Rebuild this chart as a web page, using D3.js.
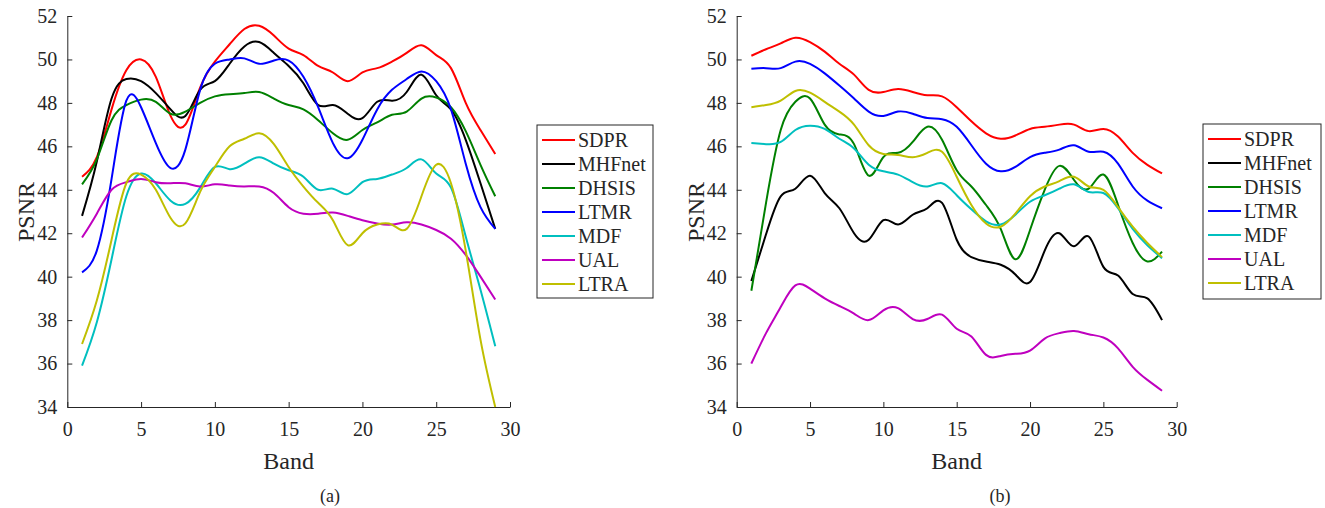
<!DOCTYPE html>
<html lang="en">
<head>
    <meta charset="UTF-8" />
    <title>PSNR per band</title>
    <script src="https://d3js.org/d3.v7.min.js"></script>
    <style>
        body { margin: 0; background: #fff; }
        text { font-family: "Liberation Serif", "Times New Roman", serif; fill: #262626; }
    </style>
</head>
<body>
<div id="my_chart"></div>
<script>
    // band numbers and tick labels
    const bands = [1, 2, 3, 4, 5, 6, 7, 8, 9, 10, 11, 12, 13, 14, 15, 16, 17, 18, 19, 20, 21, 22, 23, 24, 25, 26, 27, 28, 29];
    const xTicks = [0, 5, 10, 15, 20, 25, 30];
    const yTicks = [34, 36, 38, 40, 42, 44, 46, 48, 50, 52];
    const methods = ["SDPR", "MHFnet", "DHSIS", "LTMR", "MDF", "UAL", "LTRA"];

    // panel (a)
    const sdprA = [44.6, 45.5, 47.7, 49.5, 50.0, 49.2, 47.4, 47.0, 48.7, 49.9, 50.7, 51.4, 51.55, 51.1, 50.5, 50.2, 49.7, 49.4, 49.0, 49.4, 49.6, 49.9, 50.3, 50.65, 50.2, 49.6, 48.0, 46.75, 45.65];
    const mhfA = [42.8, 45.3, 48.2, 49.1, 49.0, 48.45, 47.7, 47.4, 48.6, 49.0, 49.8, 50.6, 50.8, 50.3, 49.7, 48.9, 47.9, 47.9, 47.5, 47.3, 48.05, 48.1, 48.5, 49.3, 48.35, 47.7, 46.3, 44.3, 42.2];
    const dhsisA = [44.25, 45.4, 47.2, 47.9, 48.15, 48.05, 47.5, 47.6, 48.0, 48.3, 48.4, 48.45, 48.5, 48.2, 47.9, 47.7, 47.2, 46.6, 46.3, 46.75, 47.1, 47.45, 47.6, 48.2, 48.25, 47.8, 46.7, 45.15, 43.7];
    const ltmrA = [40.2, 41.2, 44.5, 48.1, 47.8, 46.15, 45.0, 45.85, 48.6, 49.8, 50.0, 50.05, 49.8, 49.95, 49.95, 49.2, 47.8, 46.15, 45.45, 46.3, 47.7, 48.6, 49.1, 49.45, 49.0, 47.7, 45.2, 43.2, 42.2];
    const mdfA = [35.9, 37.9, 40.8, 43.7, 44.75, 44.3, 43.5, 43.35, 44.1, 45.05, 44.95, 45.2, 45.5, 45.2, 44.9, 44.6, 44.0, 44.05, 43.8, 44.35, 44.5, 44.7, 45.0, 45.4, 44.75, 44.1, 41.85, 39.4, 36.8];
    const ualA = [41.8, 42.9, 44.0, 44.35, 44.5, 44.35, 44.3, 44.3, 44.15, 44.25, 44.2, 44.15, 44.15, 43.85, 43.2, 42.9, 42.9, 42.95, 42.8, 42.6, 42.45, 42.4, 42.5, 42.4, 42.15, 41.75, 41.0, 40.0, 38.95];
    const ltraA = [36.9, 38.9, 41.7, 44.3, 44.7, 44.0, 42.7, 42.45, 43.9, 45.05, 46.0, 46.35, 46.6, 46.1, 45.05, 44.15, 43.4, 42.6, 41.45, 42.0, 42.4, 42.4, 42.2, 43.7, 45.15, 44.3, 41.2, 37.1, 34.0];

    // panel (b)
    const sdprB = [50.17, 50.47, 50.74, 51.0, 50.8, 50.36, 49.8, 49.3, 48.6, 48.5, 48.64, 48.5, 48.35, 48.3, 47.8, 47.15, 46.6, 46.35, 46.5, 46.8, 46.9, 47.0, 47.0, 46.7, 46.8, 46.45, 45.7, 45.15, 44.75];
    const mhfB = [39.8, 41.95, 43.7, 44.05, 44.65, 43.85, 43.15, 42.0, 41.7, 42.6, 42.4, 42.85, 43.15, 43.4, 41.7, 40.9, 40.7, 40.55, 40.1, 39.75, 41.2, 42.0, 41.4, 41.85, 40.45, 40.05, 39.2, 39.0, 38.0];
    const dhsisB = [39.35, 43.4, 46.75, 48.05, 48.2, 47.0, 46.55, 46.1, 44.65, 45.5, 45.7, 46.2, 46.9, 46.3, 44.9, 44.15, 43.3, 42.2, 40.8, 42.15, 44.0, 45.1, 44.45, 44.05, 44.7, 43.3, 41.55, 40.7, 41.15];
    const ltmrB = [49.57, 49.6, 49.6, 49.9, 49.8, 49.36, 48.8, 48.2, 47.6, 47.4, 47.6, 47.5, 47.3, 47.25, 46.9, 46.05, 45.2, 44.85, 45.05, 45.5, 45.7, 45.85, 46.05, 45.75, 45.75, 45.2, 44.15, 43.5, 43.15];
    const mdfB = [46.15, 46.1, 46.2, 46.75, 46.95, 46.8, 46.35, 45.9, 45.15, 44.85, 44.7, 44.35, 44.15, 44.3, 43.75, 43.1, 42.55, 42.4, 42.85, 43.45, 43.75, 44.05, 44.25, 43.9, 43.85, 43.15, 42.2, 41.45, 40.85];
    const ualB = [36.0, 37.4, 38.6, 39.6, 39.45, 39.0, 38.65, 38.3, 38.0, 38.45, 38.55, 38.05, 38.05, 38.25, 37.6, 37.25, 36.4, 36.35, 36.45, 36.6, 37.15, 37.4, 37.5, 37.35, 37.2, 36.7, 35.85, 35.25, 34.75];
    const ltraB = [47.8, 47.9, 48.1, 48.55, 48.47, 48.05, 47.6, 47.0, 46.05, 45.65, 45.6, 45.5, 45.7, 45.75, 44.6, 43.3, 42.45, 42.3, 42.9, 43.7, 44.15, 44.4, 44.6, 44.15, 44.0, 43.2, 42.3, 41.55, 40.9];

    const colors = ["#ff0000", "#000000", "#008000", "#0000ff", "#00bfbf", "#bf00bf", "#bfbf00"];
    const axisColor = "#262626";

    const width = 1325, height = 508;
    const svg = d3.select("#my_chart")
        .append("svg")
        .attr("width", width)
        .attr("height", height);

    svg.append("rect").attr("width", width).attr("height", height).attr("fill", "#fff");

    function drawPanel(opt) {
        const x = d3.scaleLinear().domain([0, 30]).range([opt.left, opt.right]);
        const y = d3.scaleLinear().domain([34, 52]).range([407, 16]);

        const g = svg.append("g");

        // X axis
        const gx = g.append("g")
            .attr("transform", "translate(0,407)")
            .call(d3.axisBottom(x).tickValues(xTicks).tickSizeInner(-5).tickSizeOuter(0).tickPadding(15));
        // Y axis
        const gy = g.append("g")
            .attr("transform", `translate(${opt.left},0)`)
            .call(d3.axisLeft(y).tickValues(yTicks).tickSizeInner(-5).tickSizeOuter(0).tickPadding(10));

        [gx, gy].forEach(a => {
            a.select(".domain").attr("stroke", axisColor).attr("stroke-width", 1);
            a.selectAll(".tick line").attr("stroke", axisColor);
            a.selectAll("text")
                .attr("fill", axisColor)
                .style("font-family", "'Liberation Serif', serif")
                .style("font-size", "20px");
        });

        // lines
        const line = d3.line()
            .x((d, i) => x(bands[i]))
            .y(d => y(d))
            .curve(d3.curveNatural);

        opt.series.forEach((s, i) => {
            g.append("path")
                .datum(s)
                .attr("fill", "none")
                .attr("stroke", colors[i])
                .attr("stroke-width", 2)
                .attr("d", line);
        });

        // axis labels
        g.append("text")
            .attr("x", (opt.left + opt.right) / 2)
            .attr("y", 469)
            .attr("text-anchor", "middle")
            .style("font-size", "24px")
            .text("Band");

        g.append("text")
            .attr("transform", `translate(${opt.left - 33},212)rotate(-90)`)
            .attr("text-anchor", "middle")
            .style("font-size", "24px")
            .text("PSNR");

        g.append("text")
            .attr("x", opt.caption)
            .attr("y", 502)
            .attr("text-anchor", "middle")
            .style("font-size", "18px")
            .text(opt.label);

        // legend
        const lg = g.append("g").attr("transform", `translate(${opt.lx},${opt.ly})`);
        lg.append("rect")
            .attr("width", opt.lw)
            .attr("height", opt.lh)
            .attr("fill", "#fff")
            .attr("stroke", axisColor)
            .attr("stroke-width", 1);
        methods.forEach((m, i) => {
            const yy = 15 + i * 24;
            lg.append("line")
                .attr("x1", 5).attr("x2", 38)
                .attr("y1", yy).attr("y2", yy)
                .attr("stroke", colors[i])
                .attr("stroke-width", 2);
            lg.append("text")
                .attr("x", 41)
                .attr("y", yy + 7)
                .style("font-size", "20px")
                .text(m);
        });
    }

    drawPanel({
        left: 67.3, right: 510, caption: 330, label: "(a)",
        lx: 537, ly: 125, lw: 116, lh: 173,
        series: [sdprA, mhfA, dhsisA, ltmrA, mdfA, ualA, ltraA]
    });

    drawPanel({
        left: 736.7, right: 1176.7, caption: 1000, label: "(b)",
        lx: 1203, ly: 124, lw: 118, lh: 175,
        series: [sdprB, mhfB, dhsisB, ltmrB, mdfB, ualB, ltraB]
    });
</script>
</body>
</html>
